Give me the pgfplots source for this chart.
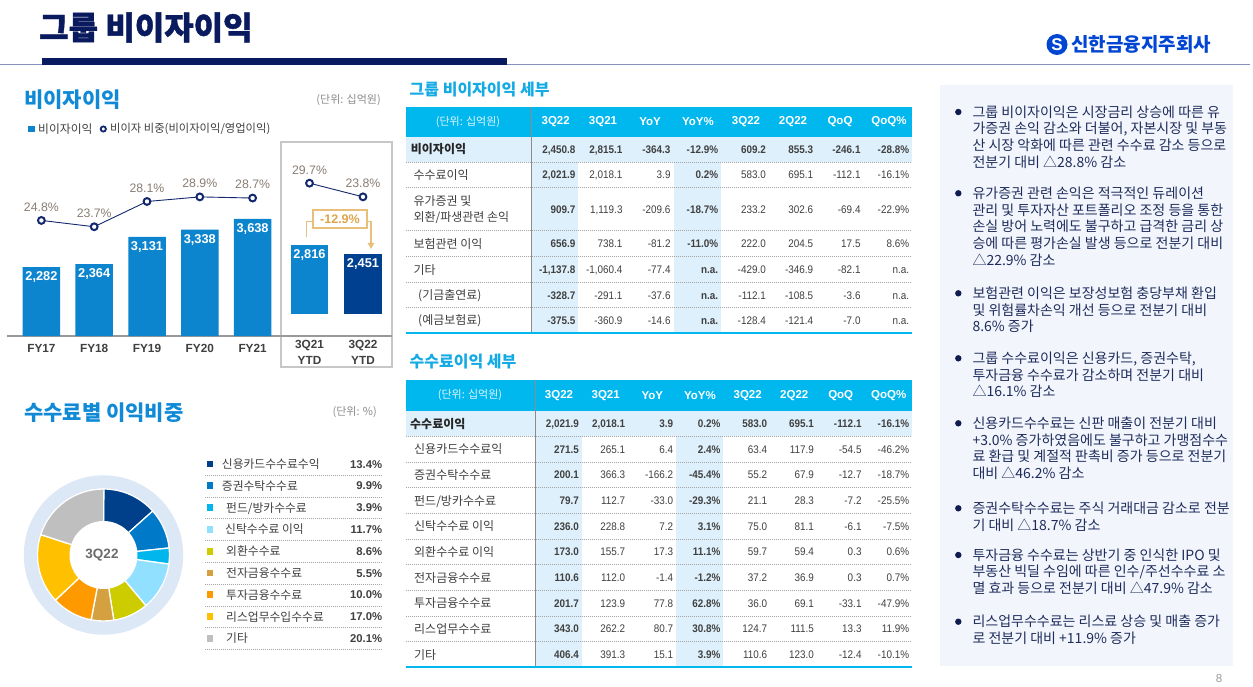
\documentclass[border=0pt]{standalone}
\usepackage{fontspec}
\setmainfont{Noto Sans CJK KR}
\newfontfamily\arial{Liberation Sans}
\newfontfamily\narrow[FakeStretch=0.9]{Liberation Sans}
\usepackage{pgfplots}
\pgfplotsset{compat=1.18}
\usetikzlibrary{arrows.meta}

\definecolor{navy}{RGB}{10,26,94}
\definecolor{thinline}{RGB}{136,144,190}
\definecolor{logoblue}{RGB}{0,70,210}
\definecolor{secblue}{RGB}{16,138,214}
\definecolor{barblue}{RGB}{12,132,206}
\definecolor{bardark}{RGB}{0,64,145}
\definecolor{linenavy}{RGB}{20,40,110}
\definecolor{pctgray}{RGB}{137,126,116}
\definecolor{tdark}{RGB}{64,64,64}
\definecolor{gold}{RGB}{222,166,76}
\definecolor{goldline}{RGB}{232,192,124}
\definecolor{cyantitle}{RGB}{20,170,228}
\definecolor{headcyan}{RGB}{0,183,238}
\definecolor{lightblue}{RGB}{222,240,251}
\definecolor{boxbg}{RGB}{242,246,252}
\definecolor{bultxt}{RGB}{30,44,92}
\definecolor{bulnavy}{RGB}{16,28,80}
\definecolor{palering}{RGB}{220,232,245}
\definecolor{c1}{RGB}{0,63,138}
\definecolor{c2}{RGB}{0,122,200}
\definecolor{c3}{RGB}{0,182,236}
\definecolor{c4}{RGB}{145,224,255}
\definecolor{c5}{RGB}{204,204,0}
\definecolor{c6}{RGB}{212,160,64}
\definecolor{c7}{RGB}{255,153,0}
\definecolor{c8}{RGB}{255,192,0}
\definecolor{c9}{RGB}{191,191,191}

\newcommand\fs[1]{\fontsize{#1}{#1}\selectfont}
% text box lines and bullets
\newcommand\bl[2]{\node[anchor=base west, inner sep=0pt, font=\fs{14}, text=bultxt] at (972.3,#1+5.2) {#2};}
\newcommand\bd[1]{\fill[bulnavy] (958.3,#1) circle (3.2);}
% table helpers
\newcommand\tl[3]{\node[anchor=base west, inner sep=0pt, font=\fs{12}, text=tdark] at (#1,#2+4.5) {#3};}
\newcommand\tlb[3]{\node[anchor=base west, inner sep=0pt, font=\bfseries\fs{12}, text=black!85] at (#1,#2+4.5) {#3};}
\newcommand\setcols[8]{\def\cA{#1}\def\cB{#2}\def\cC{#3}\def\cD{#4}\def\cE{#5}\def\cF{#6}\def\cG{#7}\def\cH{#8}}
\def\rowb{}
\tikzset{tn/.style={anchor=east, inner sep=0pt, text=tdark, text height=8pt, text depth=0pt}}
\newcommand\tvals[9]{%
  \node[tn, font=\narrow\bfseries\fs{11}] at (\cA,#1) {#2};
  \node[tn, font=\narrow\rowb\fs{11}] at (\cB,#1) {#3};
  \node[tn, font=\narrow\rowb\fs{11}] at (\cC,#1) {#4};
  \node[tn, font=\narrow\bfseries\fs{11}] at (\cD,#1) {#5};
  \node[tn, font=\narrow\rowb\fs{11}] at (\cE,#1) {#6};
  \node[tn, font=\narrow\rowb\fs{11}] at (\cF,#1) {#7};
  \node[tn, font=\narrow\rowb\fs{11}] at (\cG,#1) {#8};
  \node[tn, font=\narrow\rowb\fs{11}] at (\cH,#1) {#9};}
\newcommand\thd[3]{\node[font=\arial\bfseries\fs{11.5}, text=white, inner sep=0pt] at (#1,#2) {#3};}
\tikzset{sep/.style={draw=black!35, line width=0.6pt, dash pattern=on 1pt off 1pt}}

\begin{document}
\begin{tikzpicture}
\useasboundingbox (0,0) rectangle (1253pt,-687pt);
\fill[white] (0,0) rectangle (1253pt,-687pt);
\begin{scope}[x=1pt,y=-1pt]
% ---------- page title ----------
\node[anchor=west, inner sep=0pt, font=\bfseries\addfontfeature{FakeBold=1.2}\fs{32}, text=navy] at (39,27.5) {그룹 비이자이익};
\draw[thinline, line width=1.3pt] (0,64.3) -- (1250,64.3);
\fill[navy] (42,58.3) rectangle (506.7,65);
\fill[logoblue] (1057,44.5) circle (10.5);
\node[font=\arial\bfseries\fs{17}, text=white, inner sep=0pt] at (1057,44.5) {S};
\node[anchor=west, inner sep=0pt, font=\bfseries\fs{19}, text=logoblue] at (1071,44.5) {신한금융지주회사};

% ---------- bar chart section ----------
\node[anchor=west, inner sep=0pt, font=\bfseries\fs{21}, text=secblue] at (24,100) {비이자이익};
\node[anchor=east, inner sep=0pt, font=\fs{11}, text=black!45] at (381,100) {(단위: 십억원)};
\fill[barblue] (28.3,125.7) rectangle (35,132.4);
\node[anchor=west, inner sep=0pt, font=\fs{11.8}, text=tdark] at (38,129) {비이자이익};
\draw[linenavy, line width=1.8pt] (103.3,129) circle (2.6);
\node[anchor=west, inner sep=0pt, font=\fs{11.3}, text=tdark] at (110,129) {비이자 비중(비이자이익/영업이익)};
\draw[black!22, line width=1.2pt] (281,142) rectangle (392,367);
\draw[black!40, line width=1.2pt] (7,336) -- (392,336);

% ---------- donut section ----------
\node[anchor=west, inner sep=0pt, font=\bfseries\fs{21}, text=secblue] at (24,413) {수수료별 이익비중};
\node[anchor=east, inner sep=0pt, font=\fs{11}, text=black!45] at (377,412) {(단위: \%)};
\fill[palering] (103.5,555) circle (79.7);
\gdef\ang{-90}
\foreach \p/\c in {13.4/c1, 9.9/c2, 3.9/c3, 11.7/c4, 8.6/c5, 5.5/c6, 10.0/c7, 17.0/c8, 20.1/c9} {
  \pgfmathsetmacro\endang{\ang+3.6*\p}
  \fill[\c, draw=white, line width=1.3pt] (103.5,555) -- ++(\ang:66) arc[start angle=\ang, end angle=\endang, radius=66] -- cycle;
  \xdef\ang{\endang}
}
\fill[white] (103.5,555) circle (34);
\node[font=\arial\bfseries\fs{13.5}, text=black!58] at (102,555) {3Q22};
% donut legend
\foreach \lab/\val/\c/\lx [count=\k from 0] in {{신용카드수수료수익}/13.4/c1/221.7, {증권수탁수수료}/9.9/c2/221.7, {펀드/방카수수료}/3.9/c3/226, {신탁수수료 이익}/11.7/c4/225, {외환수수료}/8.6/c5/226, {전자금융수수료}/5.5/c6/226, {투자금융수수료}/10.0/c7/226, {리스업무수입수수료}/17.0/c8/226, {기타}/20.1/c9/226} {
  \pgfmathsetmacro\yy{464+21.8*\k}
  \fill[\c] (206.7,\yy-3.4) rectangle (213.4,\yy+3.3);
  \node[anchor=base west, inner sep=0pt, font=\fs{11.8}, text=tdark] at (\lx,\yy+4.5) {\lab};
  \node[anchor=base east, inner sep=0pt, font=\arial\bfseries\fs{11.3}, text=tdark] at (382.3,\yy+4.1) {\val\%};
  \draw[sep] (204.7,\yy+11) -- (382.3,\yy+11);
}
\end{scope}

% ---------- bars FY17-FY21 ----------
\begin{axis}[at={(15pt,-336pt)}, anchor=south west, scale only axis,
  width=264pt, height=186pt, xmin=-0.5, xmax=4.5, ymin=333, ymax=5587,
  axis x line*=bottom, axis y line=none, x axis line style={draw=none},
  xtick={0,1,2,3,4}, xticklabels={FY17,FY18,FY19,FY20,FY21}, xtick style={draw=none},
  xticklabel style={font=\arial\bfseries\fs{11.8}, text=tdark, anchor=north, inner sep=0pt, yshift=-4pt},
  ybar, bar width=37.5pt, bar shift=0pt,
  nodes near coords={\pgfmathprintnumber[assume math mode=true, 1000 sep={,}]{\pgfplotspointmeta}},
  nodes near coords align={below},
  every node near coord/.append style={font=\arial\bfseries\fs{12.8}, text=white, inner sep=0pt, yshift=-4.5pt}]
\addplot[fill=barblue, draw=none, bar shift=0pt] coordinates {(0,2282) (1,2364) (2,3131) (3,3338) (4,3638)};
\end{axis}
% ---------- ratio line FY17-FY21 ----------
\begin{axis}[at={(15pt,-336pt)}, anchor=south west, scale only axis,
  width=264pt, height=186pt, xmin=-0.5, xmax=4.5, ymin=4.67, ymax=37.07, hide axis, clip=false]
\addplot[linenavy, line width=0.9pt, mark=*, mark size=3.4pt,
  mark options={draw=linenavy, fill=white, line width=2pt},
  nodes near coords={\pgfmathprintnumber[fixed, precision=1, fixed zerofill, assume math mode=true]{\pgfplotspointmeta}\%},
  every node near coord/.append style={anchor=south, font=\arial\fs{12.3}, text=pctgray, inner sep=0pt, yshift=8pt}]
  coordinates {(0,24.8) (1,23.7) (2,28.1) (3,28.9) (4,28.7)};
\end{axis}
% ---------- bars 3Q YTD ----------
\begin{axis}[at={(282.75pt,-336pt)}, anchor=south west, scale only axis,
  width=107pt, height=186pt, xmin=-0.5, xmax=1.5, ymin=-874, ymax=6669,
  axis x line*=bottom, axis y line=none, x axis line style={draw=none},
  xtick={0,1}, xticklabels={{3Q21\\YTD},{3Q22\\YTD}}, xtick style={draw=none},
  xticklabel style={font=\arial\bfseries\fontsize{11.8}{16}\selectfont, text=tdark, anchor=north, align=center, inner sep=0pt, yshift=0pt},
  ybar, bar width=37.5pt, bar shift=0pt,
  nodes near coords={\pgfmathprintnumber[assume math mode=true, 1000 sep={,}]{\pgfplotspointmeta}},
  nodes near coords align={below},
  every node near coord/.append style={font=\arial\bfseries\fs{12.8}, text=white, inner sep=0pt, yshift=-4.5pt}]
\addplot[fill=barblue, draw=none, bar shift=0pt] coordinates {(0,2816)};
\addplot[fill=bardark, draw=none, bar shift=0pt] coordinates {(1,2451)};
\end{axis}
% ---------- ratio line 3Q YTD ----------
\begin{axis}[at={(282.75pt,-336pt)}, anchor=south west, scale only axis,
  width=107pt, height=186pt, xmin=-0.5, xmax=1.5, ymin=-36.2, ymax=44.0, hide axis, clip=false]
\addplot[linenavy, line width=0.9pt, mark=*, mark size=3.4pt,
  mark options={draw=linenavy, fill=white, line width=2pt},
  nodes near coords={\pgfmathprintnumber[fixed, precision=1, fixed zerofill, assume math mode=true]{\pgfplotspointmeta}\%},
  every node near coord/.append style={anchor=south, font=\arial\fs{12.3}, text=pctgray, inner sep=0pt, yshift=8pt}]
  coordinates {(0,29.7) (1,23.8)};
\end{axis}

\begin{scope}[x=1pt,y=-1pt]
% bracket -12.9%
\fill[white] (313,210) rectangle (367,228);
\draw[goldline, line width=1.3pt] (313,210) rectangle (367,228);
\draw[goldline, line width=1.3pt] (306.7,237) -- (306.7,221.5) -- (313,221.5);
\draw[goldline, line width=1.3pt, -{Triangle[length=6pt,width=6.5pt]}] (367,221.5) -- (371,221.5) -- (371,249);
\node[font=\arial\bfseries\fs{12.5}, text=gold, inner sep=0pt] at (340,219.3) {-12.9\%};

% ---------- table 1 ----------
\node[anchor=west, inner sep=0pt, font=\bfseries\fs{16}, text=cyantitle] at (409.5,90) {그룹 비이자이익 세부};
\fill[headcyan] (405.7,107.3) rectangle (911.7,136.7);
\fill[lightblue] (405.7,136.7) rectangle (911.7,162.3);
\fill[lightblue] (531.7,162.3) rectangle (578.3,333);
\fill[lightblue] (674,162.3) rectangle (721,333);
\foreach \y in {162.3,187.7,230.7,256.7,282.7,307.3} {\draw[sep] (405.7,\y) -- (911.7,\y);}
\draw[black!45, line width=0.9pt] (531,107.3) -- (531,333);
\draw[headcyan, line width=2.3pt] (405.7,333) -- (911.7,333);
\node[font=\fs{11}, text=white!88!headcyan, inner sep=0pt] at (468,122) {(단위: 십억원)};
\foreach \t/\x in {3Q22/555.7, 3Q21/603, YoY/650, YoY\%/698, 3Q22/746, 2Q22/793, QoQ/840, QoQ\%/889} {\thd{\x}{122}{\t}}
\setcols{575.7}{622.7}{670.7}{718.3}{766}{813.3}{860.7}{909.3}
\tlb{410.7}{149.5}{비이자이익}
\tl{413.3}{175}{수수료이익}
\tl{413.3}{201}{유가증권 및}
\tl{413.3}{217.3}{외환/파생관련 손익}
\tl{413.3}{243.5}{보험관련 이익}
\tl{413.3}{269.5}{기타}
\tl{418}{295}{(기금출연료)}
\tl{418}{320}{(예금보험료)}
\def\rowb{\bfseries}
\tvals{149.5}{2,450.8}{2,815.1}{-364.3}{-12.9\%}{609.2}{855.3}{-246.1}{-28.8\%}
\def\rowb{}
\tvals{175}{2,021.9}{2,018.1}{3.9}{0.2\%}{583.0}{695.1}{-112.1}{-16.1\%}
\tvals{209.5}{909.7}{1,119.3}{-209.6}{-18.7\%}{233.2}{302.6}{-69.4}{-22.9\%}
\tvals{243.5}{656.9}{738.1}{-81.2}{-11.0\%}{222.0}{204.5}{17.5}{8.6\%}
\tvals{269.5}{-1,137.8}{-1,060.4}{-77.4}{n.a.}{-429.0}{-346.9}{-82.1}{n.a.}
\tvals{295}{-328.7}{-291.1}{-37.6}{n.a.}{-112.1}{-108.5}{-3.6}{n.a.}
\tvals{320}{-375.5}{-360.9}{-14.6}{n.a.}{-128.4}{-121.4}{-7.0}{n.a.}

% ---------- table 2 ----------
\node[anchor=west, inner sep=0pt, font=\bfseries\fs{16}, text=cyantitle] at (409.5,362) {수수료이익 세부};
\fill[headcyan] (405.7,380) rectangle (911.7,410.7);
\fill[lightblue] (405.7,410.7) rectangle (911.7,436.4);
\fill[lightblue] (535,436.4) rectangle (581.7,667.3);
\fill[lightblue] (676,436.4) rectangle (723.3,667.3);
\foreach \y in {436.4,462,487.7,513.3,539,564.7,590.3,616,641.6} {\draw[sep] (405.7,\y) -- (911.7,\y);}
\draw[black!45, line width=0.9pt] (535,380) -- (535,667.3);
\draw[headcyan, line width=2.3pt] (405.7,667.3) -- (911.7,667.3);
\node[font=\fs{11}, text=white!88!headcyan, inner sep=0pt] at (470,395.3) {(단위: 십억원)};
\foreach \t/\x in {3Q22/559, 3Q21/605.7, YoY/652.3, YoY\%/700, 3Q22/747.7, 2Q22/794.3, QoQ/840.7, QoQ\%/888.7} {\thd{\x}{395.3}{\t}}
\setcols{579}{625.3}{673.3}{720.7}{767.3}{814}{861.7}{909.3}
\tlb{410}{423.6}{수수료이익}
\tl{414}{449.2}{신용카드수수료익}
\tl{414}{474.8}{증권수탁수수료}
\tl{414}{500.5}{펀드/방카수수료}
\tl{414}{526.1}{신탁수수료 이익}
\tl{414}{551.8}{외환수수료 이익}
\tl{414}{577.5}{전자금융수수료}
\tl{414}{603.1}{투자금융수수료}
\tl{414}{628.8}{리스업무수수료}
\tl{414}{654.5}{기타}
\def\rowb{\bfseries}
\tvals{423.6}{2,021.9}{2,018.1}{3.9}{0.2\%}{583.0}{695.1}{-112.1}{-16.1\%}
\def\rowb{}
\tvals{449.2}{271.5}{265.1}{6.4}{2.4\%}{63.4}{117.9}{-54.5}{-46.2\%}
\tvals{474.8}{200.1}{366.3}{-166.2}{-45.4\%}{55.2}{67.9}{-12.7}{-18.7\%}
\tvals{500.5}{79.7}{112.7}{-33.0}{-29.3\%}{21.1}{28.3}{-7.2}{-25.5\%}
\tvals{526.1}{236.0}{228.8}{7.2}{3.1\%}{75.0}{81.1}{-6.1}{-7.5\%}
\tvals{551.8}{173.0}{155.7}{17.3}{11.1\%}{59.7}{59.4}{0.3}{0.6\%}
\tvals{577.5}{110.6}{112.0}{-1.4}{-1.2\%}{37.2}{36.9}{0.3}{0.7\%}
\tvals{603.1}{201.7}{123.9}{77.8}{62.8\%}{36.0}{69.1}{-33.1}{-47.9\%}
\tvals{628.8}{343.0}{262.2}{80.7}{30.8\%}{124.7}{111.5}{13.3}{11.9\%}
\tvals{654.5}{406.4}{391.3}{15.1}{3.9\%}{110.6}{123.0}{-12.4}{-10.1\%}

% ---------- comment box ----------
\fill[boxbg] (940,85) rectangle (1232.7,665.7);
\bd{112}
\bl{112}{그룹 비이자이익은 시장금리 상승에 따른 유}
\bl{128.7}{가증권 손익 감소와 더불어, 자본시장 및 부동}
\bl{145.4}{산 시장 악화에 따른 관련 수수료 감소 등으로}
\bl{162.1}{전분기 대비 △28.8\% 감소}
\bd{193.3}
\bl{193.3}{유가증권 관련 손익은 적극적인 듀레이션}
\bl{210}{관리 및 투자자산 포트폴리오 조정 등을 통한}
\bl{226.7}{손실 방어 노력에도 불구하고 급격한 금리 상}
\bl{243.4}{승에 따른 평가손실 발생 등으로 전분기 대비}
\bl{260.1}{△22.9\% 감소}
\bd{293.3}
\bl{293.3}{보험관련 이익은 보장성보험 충당부채 환입}
\bl{310}{및 위험률차손익 개선 등으로 전분기 대비}
\bl{326.7}{8.6\% 증가}
\bd{358.3}
\bl{358.3}{그룹 수수료이익은 신용카드, 증권수탁,}
\bl{375}{투자금융 수수료가 감소하며 전분기 대비}
\bl{391.7}{△16.1\% 감소}
\bd{423.3}
\bl{423.3}{신용카드수수료는 신판 매출이 전분기 대비}
\bl{440}{+3.0\% 증가하였음에도 불구하고 가맹점수수}
\bl{456.7}{료 환급 및 계절적 판촉비 증가 등으로 전분기}
\bl{473.4}{대비 △46.2\% 감소}
\bd{508.3}
\bl{508.3}{증권수탁수수료는 주식 거래대금 감소로 전분}
\bl{525}{기 대비 △18.7\% 감소}
\bd{555}
\bl{555}{투자금융 수수료는 상반기 중 인식한 IPO 및}
\bl{571.7}{부동산 빅딜 수임에 따른 인수/주선수수료 소}
\bl{588.4}{멸 효과 등으로 전분기 대비 △47.9\% 감소}
\bd{621.7}
\bl{621.7}{리스업무수수료는 리스료 상승 및 매출 증가}
\bl{638.4}{로 전분기 대비 +11.9\% 증가}
\node[font=\arial\fs{11.5}, text=black!40, inner sep=0pt] at (1219,679) {8};
\end{scope}
\end{tikzpicture}
\end{document}
